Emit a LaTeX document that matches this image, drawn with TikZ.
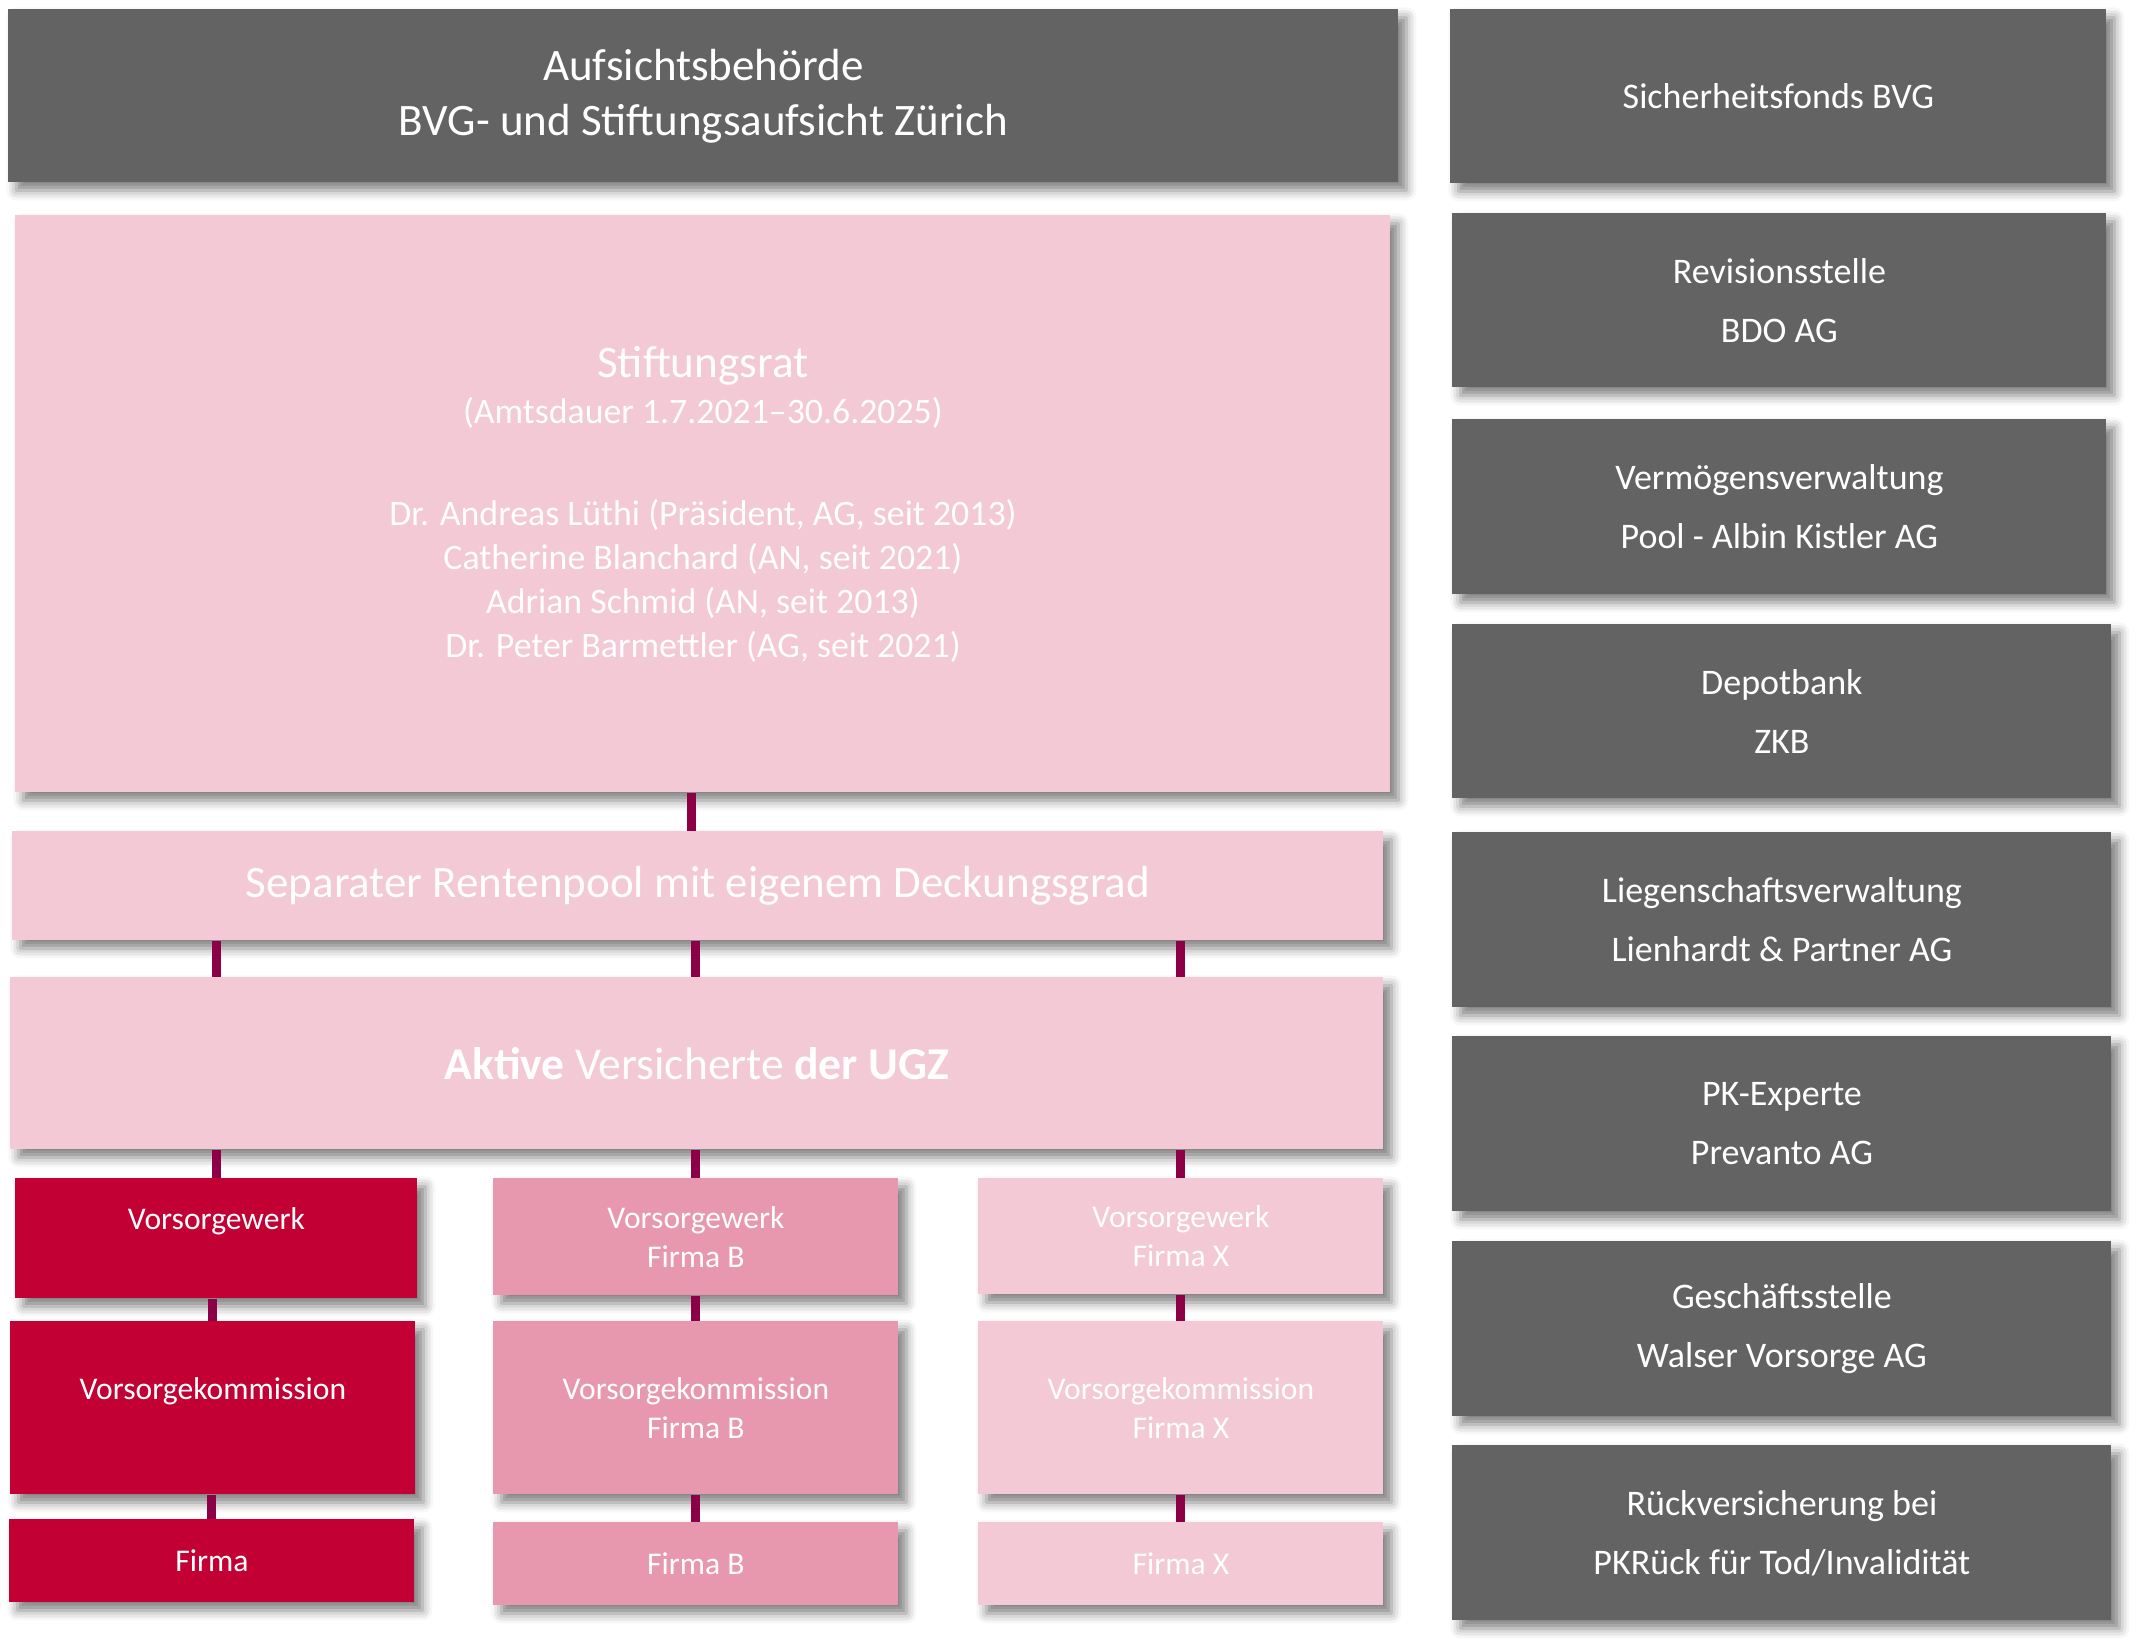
\documentclass[tikz,border=0pt]{standalone}
\usepackage{fontspec}
\setmainfont{Carlito}
\usetikzlibrary{shadows.blur}

\definecolor{boxgray}{HTML}{636363}
\definecolor{palepink}{HTML}{F2C9D5}
\definecolor{midpink}{HTML}{E898AE}
\definecolor{firmred}{HTML}{C30034}
\definecolor{linkpurple}{HTML}{8C0048}

\tikzset{
    orgbox/.style={rectangle, inner sep=0pt, text=white, align=center, anchor=north west,
        blur shadow={shadow xshift=4pt, shadow yshift=-4pt, shadow blur radius=5pt, shadow opacity=50}},
    boxsize/.style 2 args={minimum width=#1*0.5pt, minimum height=#2*0.5pt},
    graybox/.style={orgbox, fill=boxgray},
    palebox/.style={orgbox, fill=palepink},
    midbox/.style={orgbox, fill=midpink},
    redbox/.style={orgbox, fill=firmred},
    bigtext/.style={font=\fontsize{22.5}{27.5}\selectfont},
    sidetext/.style={font=\fontsize{18}{29.5}\selectfont},
    smalltext/.style={font=\fontsize{15.8}{19.5}\selectfont},
    link/.style={draw=linkpurple, line width=4.5pt}
}

\begin{document}
\begin{tikzpicture}[x=0.5pt, y=-0.5pt]
    \useasboundingbox (0,0) rectangle (2139,1649);

    % oversight and board
    \node[graybox, bigtext, boxsize={1390}{173}] (aufsicht) at (8,9)
        {Aufsichtsbehörde\\BVG- und Stiftungsaufsicht Zürich};
    \node[palebox, font=\fontsize{17.9}{22}\selectfont, boxsize={1375}{577}] (rat) at (15,215)
        {{\fontsize{22.6}{26}\selectfont Stiftungsrat}\\[1pt]
         (Amtsdauer 1.7.2021–30.6.2025)\\[29pt]
         Dr. Andreas Lüthi (Präsident, AG, seit 2013)\\
         Catherine Blanchard (AN, seit 2021)\\
         Adrian Schmid (AN, seit 2013)\\
         Dr. Peter Barmettler (AG, seit 2021)};
    \node[palebox, bigtext, boxsize={1371}{109}] (rent) at (12,831)
        {Separater Rentenpool mit eigenem Deckungsgrad};
    \node[palebox, font=\fontsize{22.8}{27.5}\selectfont, boxsize={1373}{172}] (aktive) at (10,977)
        {\textbf{Aktive} Versicherte \textbf{der UGZ}};

    % pension plans
    \node[redbox, smalltext, boxsize={402}{120}] (vw1) at (15,1178) {Vorsorgewerk\\\phantom{Firma}};
    \node[midbox, smalltext, boxsize={405}{117}] (vwb) at (493,1178) {Vorsorgewerk\\Firma B};
    \node[palebox, smalltext, boxsize={405}{116}] (vwx) at (978,1178) {Vorsorgewerk\\Firma X};

    \node[redbox, smalltext, boxsize={405}{173}] (vk1) at (10,1321) {Vorsorgekommission\\\phantom{Firma}};
    \node[midbox, smalltext, boxsize={405}{173}] (vkb) at (493,1321) {Vorsorgekommission\\Firma B};
    \node[palebox, smalltext, boxsize={405}{173}] (vkx) at (978,1321) {Vorsorgekommission\\Firma X};

    \node[redbox, smalltext, boxsize={405}{83}] (f1) at (9,1519) {Firma};
    \node[midbox, smalltext, boxsize={405}{83}] (fb) at (493,1522) {Firma B};
    \node[palebox, smalltext, boxsize={405}{83}] (fx) at (978,1522) {Firma X};

    % external partners
    \node[graybox, sidetext, boxsize={656}{174}] (sifo) at (1450,9) {Sicherheitsfonds BVG};
    \node[graybox, sidetext, boxsize={654}{174}] (rev) at (1452,213) {Revisionsstelle\\BDO AG};
    \node[graybox, sidetext, boxsize={654}{175}] (verm) at (1452,419) {Vermögensverwaltung\\Pool - Albin Kistler AG};
    \node[graybox, sidetext, boxsize={659}{174}] (depot) at (1452,624) {Depotbank\\ZKB};
    \node[graybox, sidetext, boxsize={659}{175}] (lieg) at (1452,832) {Liegenschaftsverwaltung\\Lienhardt \& Partner AG};
    \node[graybox, sidetext, boxsize={659}{175}] (pk) at (1452,1036) {PK-Experte\\Prevanto AG};
    \node[graybox, sidetext, boxsize={659}{175}] (gs) at (1452,1241) {Geschäftsstelle\\Walser Vorsorge AG};
    \node[graybox, sidetext, boxsize={659}{175}] (rueck) at (1452,1445) {Rückversicherung bei\\PKRück für Tod/Invalidität};

    % connectors
    \draw[link] ([xshift=-3pt]rent.north) -- ([xshift=-3pt]rent.north |- rat.south);
    \draw[link] (vw1.north |- rent.south) -- (vw1.north |- aktive.north);
    \draw[link] (vwb.north |- rent.south) -- (vwb.north |- aktive.north);
    \draw[link] (vwx.north |- rent.south) -- (vwx.north |- aktive.north);
    \draw[link] (vw1.north) -- (vw1.north |- aktive.south);
    \draw[link] (vwb.north) -- (vwb.north |- aktive.south);
    \draw[link] (vwx.north) -- (vwx.north |- aktive.south);
    \draw[link] (vk1.north) -- (vk1.north |- vw1.south);
    \draw[link] (vkb.north) -- (vkb.north |- vwb.south);
    \draw[link] (vkx.north) -- (vkx.north |- vwx.south);
    \draw[link] (f1.north) -- (f1.north |- vk1.south);
    \draw[link] (fb.north) -- (fb.north |- vkb.south);
    \draw[link] (fx.north) -- (fx.north |- vkx.south);
\end{tikzpicture}
\end{document}
